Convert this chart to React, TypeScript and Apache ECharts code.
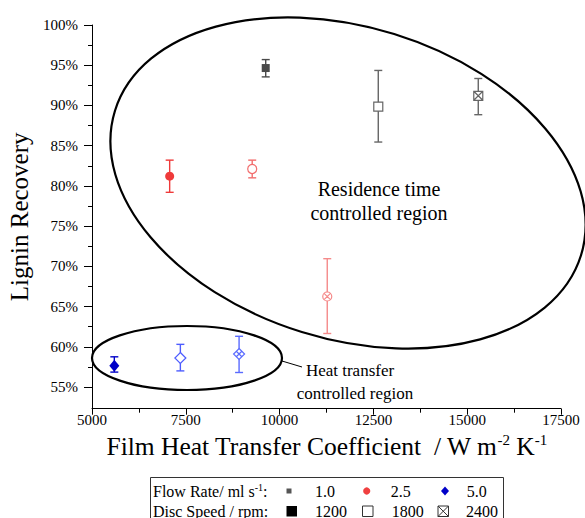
import React, { useEffect, useRef } from 'react';
import * as echarts from 'echarts';

// ---- data ----
const flowRates = ['1.0', '2.5', '5.0'];
const discSpeeds = ['1200', '1800', '2400'];
// film heat transfer coefficient (W m-2 K-1), rows = flow rate, cols = disc speed
const heatTransfer = [
  [9630, 12630, 15295],
  [7070, 9270, 11270],
  [5595, 7355, 8920],
];
// lignin recovery (%)
const recovery = [
  [94.65, 89.85, 91.2],
  [81.2, 82.1, 66.25],
  [57.65, 58.6, 59.1],
];
const errLow = [
  [93.55, 85.45, 88.85],
  [79.2, 81.0, 61.65],
  [56.85, 57.0, 56.8],
];
const errHigh = [
  [95.7, 94.35, 93.35],
  [83.2, 83.2, 70.95],
  [58.75, 60.3, 61.3],
];
const yTickValues = [55, 60, 65, 70, 75, 80, 85, 90, 95, 100];
const yMinorTickValues = [57.5, 62.5, 67.5, 72.5, 77.5, 82.5, 87.5, 92.5, 97.5];

const FONT = 'Liberation Serif';

const colors = [
  ['#4a4a4a', '#666666', '#666666'],
  ['#ef3a3a', '#f26d6d', '#f58a8a'],
  ['#0000c8', '#4d5cff', '#5a6bff'],
];

const crossSquare = 'path://M0,0L10,0L10,10L0,10ZM0,0L10,10M10,0L0,10';
const crossCircle = 'path://M5,0A5,5,0,1,1,5,10A5,5,0,1,1,5,0ZM1.46,1.46L8.54,8.54M8.54,1.46L1.46,8.54';
const crossDiamond = 'path://M5,0L10,5L5,10L0,5ZM2.5,2.5L7.5,7.5M7.5,2.5L2.5,7.5';

const symbols = [
  ['rect', 'rect', crossSquare],
  ['circle', 'circle', crossCircle],
  ['diamond', 'diamond', crossDiamond],
];
const symbolSizes: any[] = [
  [8, 9, 9],
  [9, 9, 9],
  [[10, 12], [11, 11], [11, 11]],
];

export default function App() {
  const ref = useRef<HTMLDivElement>(null);
  useEffect(() => {
    if (!ref.current) return;
    const chart = echarts.init(ref.current, undefined, { renderer: 'svg' });

    const scatterSeries: any[] = [];
    const barData: any[] = [];
    const barColors: string[] = [];
    flowRates.forEach((fr, i) => {
      discSpeeds.forEach((ds, j) => {
        const col = colors[i][j];
        scatterSeries.push({
          type: 'scatter',
          name: `${fr} ml/s, ${ds} rpm`,
          data: [[heatTransfer[i][j], recovery[i][j]]],
          symbol: symbols[i][j],
          symbolSize: symbolSizes[i][j],
          itemStyle: {
            color: j === 0 ? col : '#ffffff',
            borderColor: col,
            borderWidth: j === 0 ? 0 : 1.2,
            opacity: 1,
          },
          z: 3,
        });
        barData.push([heatTransfer[i][j], errLow[i][j], errHigh[i][j]]);
        barColors.push(col);
      });
    });

    const errorSeries = {
      type: 'custom',
      name: 'error',
      z: 2,
      data: barData,
      renderItem: (params: any, api: any) => {
        const x = api.value(0);
        const lo = api.coord([x, api.value(1)]);
        const hi = api.coord([x, api.value(2)]);
        const c = barColors[params.dataIndex];
        const hw = 4;
        const st = { stroke: c, lineWidth: 1.4 };
        return {
          type: 'group',
          children: [
            { type: 'line', shape: { x1: lo[0], y1: lo[1], x2: hi[0], y2: hi[1] }, style: st },
            { type: 'line', shape: { x1: lo[0] - hw, y1: lo[1], x2: lo[0] + hw, y2: lo[1] }, style: st },
            { type: 'line', shape: { x1: hi[0] - hw, y1: hi[1], x2: hi[0] + hw, y2: hi[1] }, style: st },
          ],
        };
      },
    };

    const txt = (text: string, x: number, y: number, size: number, align = 'left') => ({
      type: 'text',
      x,
      y,
      style: { text, fontSize: size, fontFamily: FONT, fill: '#000', align, verticalAlign: 'middle' },
      z: 20,
    });

    const graphic: any[] = [
      // Residence time region ellipse
      {
        type: 'ellipse',
        x: 348,
        y: 183,
        rotation: -0.3,
        shape: { cx: 0, cy: 0, rx: 244, ry: 156 },
        style: { fill: 'none', stroke: '#000', lineWidth: 2.2 },
        z: 10,
      },
      // Heat transfer region ellipse
      {
        type: 'ellipse',
        shape: { cx: 187, cy: 358, rx: 95, ry: 32 },
        style: { fill: 'none', stroke: '#000', lineWidth: 2.2 },
        z: 10,
      },
      {
        type: 'line',
        shape: { x1: 282, y1: 361, x2: 302, y2: 367 },
        style: { stroke: '#000', lineWidth: 1 },
        z: 10,
      },
      txt('Residence time', 379, 189, 20, 'center'),
      txt('controlled region', 379, 213, 20, 'center'),
      txt('Heat transfer', 350, 370, 17, 'center'),
      txt('controlled region', 355, 393, 17, 'center'),
      // legend box
      {
        type: 'rect',
        shape: { x: 150.5, y: 477.5, width: 353, height: 50 },
        style: { fill: '#fff', stroke: '#333', lineWidth: 1 },
        z: 15,
      },
      {
        type: 'text',
        x: 153,
        y: 491,
        style: {
          text: '{a|Flow Rate/ ml s}{b|-1}{a|:}',
          fontFamily: FONT,
          verticalAlign: 'middle',
          rich: {
            a: { fontSize: 16, fontFamily: FONT, fill: '#000', lineHeight: 18 },
            b: { fontSize: 10, fontFamily: FONT, fill: '#000', lineHeight: 10, verticalAlign: 'top' },
          },
        },
        z: 20,
      },
      txt('Disc Speed / rpm:', 153, 511, 16),
      { type: 'rect', shape: { x: 286.5, y: 488.5, width: 5, height: 5 }, style: { fill: '#555' }, z: 20 },
      txt(flowRates[0], 315, 491, 16),
      { type: 'circle', shape: { cx: 366.7, cy: 491, r: 3.6 }, style: { fill: '#f04040' }, z: 20 },
      txt(flowRates[1], 390.7, 491, 16),
      {
        type: 'polygon',
        shape: { points: [[445, 486.5], [449, 491], [445, 495.5], [441, 491]] },
        style: { fill: '#0000c8' },
        z: 20,
      },
      txt(flowRates[2], 466.7, 491, 16),
      { type: 'rect', shape: { x: 286.5, y: 506, width: 10.5, height: 10.5 }, style: { fill: '#000' }, z: 20 },
      txt(discSpeeds[0], 315, 511, 16),
      {
        type: 'rect',
        shape: { x: 362.5, y: 506, width: 10.5, height: 10.5 },
        style: { fill: '#fff', stroke: '#333', lineWidth: 1 },
        z: 20,
      },
      txt(discSpeeds[1], 391.7, 511, 16),
      {
        type: 'rect',
        shape: { x: 438, y: 506, width: 10.5, height: 10.5 },
        style: { fill: '#fff', stroke: '#333', lineWidth: 1 },
        z: 20,
      },
      { type: 'line', shape: { x1: 438, y1: 506, x2: 448.5, y2: 516.5 }, style: { stroke: '#333', lineWidth: 1 }, z: 20 },
      { type: 'line', shape: { x1: 448.5, y1: 506, x2: 438, y2: 516.5 }, style: { stroke: '#333', lineWidth: 1 }, z: 20 },
      txt(discSpeeds[2], 466, 511, 16),
    ];

    chart.setOption({
      animation: false,
      backgroundColor: '#ffffff',
      textStyle: { fontFamily: FONT },
      grid: {
        left: 92,
        right: 24,
        top: 25,
        bottom: 109.3,
        containLabel: false,
        outerBoundsMode: 'none',
      },
      xAxis: {
        type: 'value',
        min: 5000,
        max: 17500,
        interval: 2500,
        name: '{t|Film Heat Transfer Coefficient  / W m}{s|-2}{t| K}{s|-1}',
        nameLocation: 'middle',
        nameGap: 22,
        nameTextStyle: {
          fontFamily: FONT,
          rich: {
            t: { fontSize: 25.5, fontFamily: FONT, color: '#000', lineHeight: 27 },
            s: { fontSize: 15, fontFamily: FONT, color: '#000', lineHeight: 14, verticalAlign: 'top' },
          },
        },
        axisLine: { show: true, lineStyle: { color: '#000', width: 1 } },
        axisTick: { show: true, length: 6, lineStyle: { color: '#000' } },
        minorTick: { show: true, splitNumber: 2, length: 4, lineStyle: { color: '#000' } },
        splitLine: { show: false },
        axisLabel: {
          fontSize: 15,
          fontFamily: FONT,
          color: '#000',
          margin: 4,
          formatter: (v: number) => String(v),
        },
      },
      yAxis: [
        {
          type: 'value',
          min: 52.3,
          max: 100,
          name: 'Lignin Recovery',
          nameLocation: 'middle',
          nameGap: 55,
          nameTextStyle: { fontSize: 25, fontFamily: FONT, color: '#000' },
          axisLine: { show: true, lineStyle: { color: '#000', width: 1 } },
          axisTick: { show: true, length: 8, customValues: yTickValues, lineStyle: { color: '#000' } },
          splitLine: { show: false },
          axisLabel: {
            fontSize: 15,
            fontFamily: FONT,
            color: '#000',
            margin: 14,
            customValues: yTickValues,
            formatter: (v: number) => `${Math.round(v)}%`,
          },
        },
        {
          type: 'value',
          min: 52.3,
          max: 100,
          position: 'right',
          offset: -469,
          axisLine: { show: false },
          axisTick: { show: true, inside: true, length: 4, customValues: yMinorTickValues, lineStyle: { color: '#000' } },
          axisLabel: { show: false },
          splitLine: { show: false },
        },
      ],
      series: [errorSeries, ...scatterSeries],
      graphic,
    });

    return () => chart.dispose();
  }, []);

  return (
    <div
      ref={ref}
      style={{ position: 'fixed', left: 0, top: 0, width: 585, height: 518, background: '#fff' }}
    />
  );
}
